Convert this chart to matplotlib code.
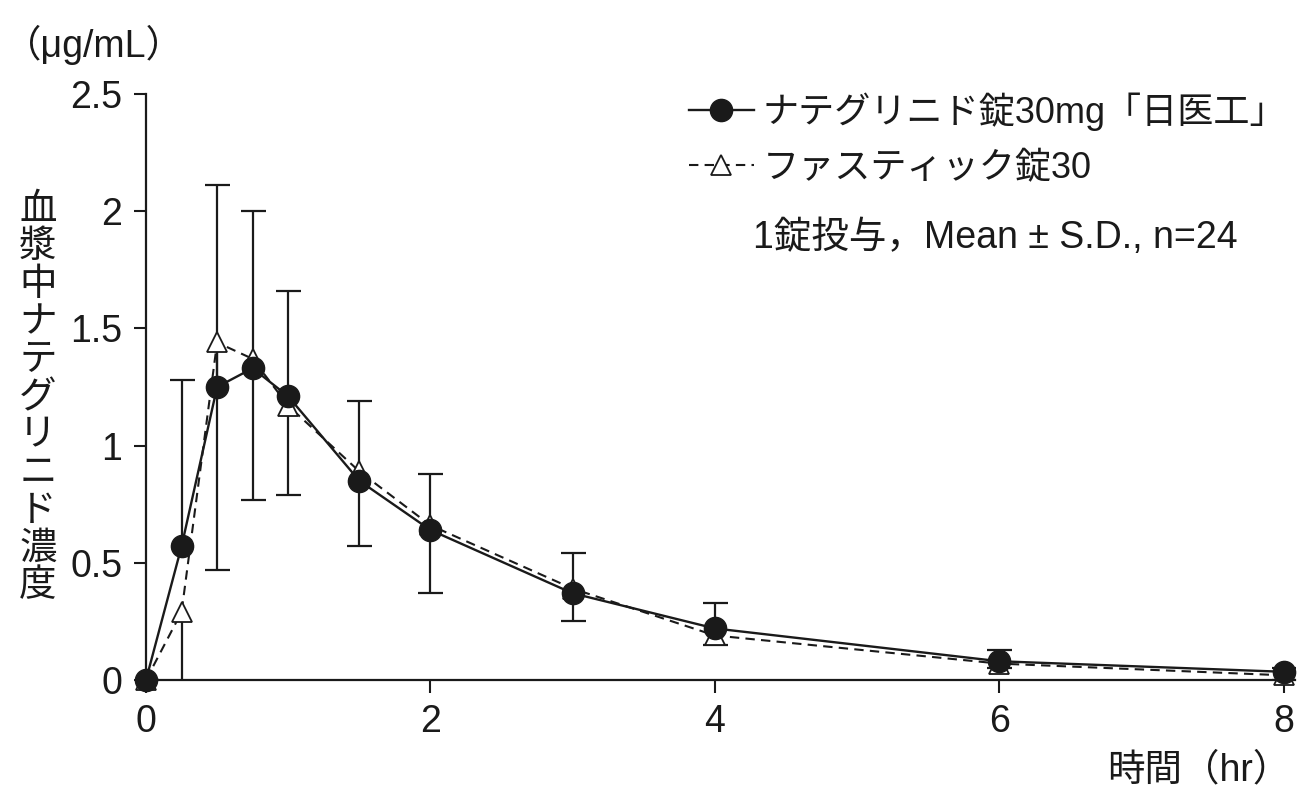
import matplotlib
matplotlib.use("Agg")
import matplotlib.pyplot as plt
import numpy as np

plt.rcParams['font.family'] = ['Liberation Sans', 'Noto Sans CJK JP']

# time (hr)
t = [0, 0.25, 0.5, 0.75, 1, 1.5, 2, 3, 4, 6, 8]
# ナテグリニド錠30mg「日医工」 mean and +SD end
nat_mean = [0, 0.57, 1.25, 1.33, 1.21, 0.85, 0.64, 0.37, 0.22, 0.08, 0.035]
nat_top = [0, 1.28, 2.11, 2.00, 1.66, 1.19, 0.88, 0.54, 0.33, 0.13, 0.05]
# ファスティック錠30 mean and -SD end
fas_mean = [0, 0.29, 1.44, 1.37, 1.17, 0.89, 0.66, 0.39, 0.19, 0.07, 0.02]
fas_low = [0, -0.04, 0.47, 0.77, 0.79, 0.57, 0.37, 0.25, 0.15, 0.05, 0.0]

label1 = 'ナテグリニド錠30mg「日医工」'
label2 = 'ファスティック錠30'

fig = plt.figure(figsize=(12.97, 7.99), dpi=100)
ax = fig.add_axes([146/1297, 1 - 680/799, (1295 - 146)/1297, (680 - 94)/799])

t = np.array(t)
nat_mean = np.array(nat_mean)
fas_mean = np.array(fas_mean)
up = np.array(nat_top) - nat_mean
lo = fas_mean - np.array(fas_low)
zero = np.zeros_like(t)

eb1 = ax.errorbar(t, nat_mean, yerr=[zero, up], fmt='none', ecolor='#1a1a1a',
                  elinewidth=1.6, capsize=9, capthick=1.6, zorder=2)
eb1[1][0].set_visible(False)
eb2 = ax.errorbar(t, fas_mean, yerr=[lo, zero], fmt='none', ecolor='#1a1a1a',
                  elinewidth=1.6, capsize=9, capthick=1.6, zorder=2)
eb2[1][1].set_visible(False)

l2, = ax.plot(t, fas_mean, color='#1a1a1a', lw=1.5, dashes=(4.5, 3),
              marker='^', ms=14, mfc='white', mec='#1a1a1a', mew=1.3,
              zorder=3, clip_on=False, label=label2)
l1, = ax.plot(t, nat_mean, color='#1a1a1a', lw=1.7, marker='o', ms=16,
              mfc='#1a1a1a', mec='#1a1a1a', zorder=4, clip_on=False, label=label1)

ax.set_xlim(0, 8.08)
ax.set_ylim(0, 2.5)
ax.set_xticks([0, 2, 4, 6, 8])
ax.set_yticks([0, 0.5, 1, 1.5, 2, 2.5])
ax.set_yticklabels(['0', '0.5', '1', '1.5', '2', '2.5'])
for s in ['top', 'right']:
    ax.spines[s].set_visible(False)
for s in ['left', 'bottom']:
    ax.spines[s].set_linewidth(1.6)
    ax.spines[s].set_color('#1a1a1a')
ax.tick_params(direction='out', length=9, width=1.5, labelsize=27,
               colors='#1a1a1a', pad=8)
ax.tick_params(axis='x', pad=8)

leg = ax.legend(handles=[l1, l2], loc='upper left', bbox_to_anchor=(0.46, 1.027),
                frameon=False, fontsize=26, handlelength=1.8, handletextpad=0.25,
                labelspacing=0.55, borderaxespad=0)
for txt in leg.get_texts():
    txt.set_color('#1a1a1a')

ax.text(0.528, 0.755, '1錠投与，Mean ± S.D., n=24', transform=ax.transAxes,
        fontsize=27, ha='left', va='center', color='#1a1a1a')

fig.text(4/1297, 1 - 45/799, '（μg/mL）', fontsize=27, ha='left', va='center',
         color='#1a1a1a')
fig.text(38/1297, 1 - 398/799, '\n'.join('血漿中ナテグリニド濃度'), fontsize=27,
         ha='center', va='center', linespacing=1.06, color='#1a1a1a')
fig.text(1290/1297, 1 - 770/799, '時間（hr）', fontsize=27, ha='right',
         va='center', color='#1a1a1a')

fig.savefig('out.png', dpi=100)
